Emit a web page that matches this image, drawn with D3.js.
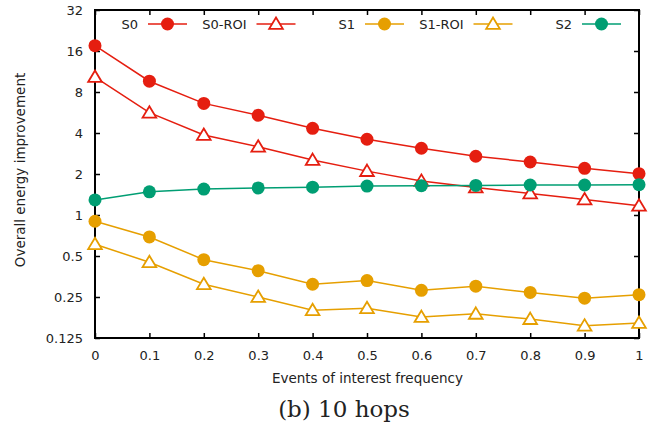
<!DOCTYPE html>
<html><head><meta charset="utf-8">
<script src="https://cdn.jsdelivr.net/npm/d3@7"></script>
<style>body{margin:0;background:#fff}svg{display:block}</style>
</head><body>
<script>
const xValues = [0,0.1,0.2,0.3,0.4,0.5,0.6,0.7,0.8,0.9,1];
const s0    = [17.5,9.6,6.6,5.4,4.33,3.6,3.09,2.70,2.45,2.20,2.01];
const s0roi = [10.3,5.64,3.87,3.17,2.53,2.10,1.78,1.59,1.44,1.30,1.17];
const s1    = [0.90,0.69,0.47,0.39,0.31,0.33,0.28,0.30,0.27,0.245,0.26];
const s1roi = [0.61,0.45,0.31,0.25,0.20,0.207,0.178,0.188,0.172,0.154,0.161];
const s2    = [1.29,1.48,1.55,1.58,1.60,1.63,1.64,1.65,1.66,1.66,1.67];
const yTicks = [0.125,0.25,0.5,1,2,4,8,16,32];
const yTickLabels = ["0.125","0.25","0.5","1","2","4","8","16","32"];
const xTickLabels = ["0","0.1","0.2","0.3","0.4","0.5","0.6","0.7","0.8","0.9","1"];
const seriesNames = ["S0","S0-ROI","S1","S1-ROI","S2"];

const W=652,H=430;
const L=95,R=639,T=10,B=338;
const svg=d3.select("body").append("svg").attr("width",W).attr("height",H);
const x=d3.scaleLinear().domain([0,1]).range([L,R]);
const y=d3.scaleLog().base(2).domain([0.125,32]).range([B,T]);

const red="#e51e10",orange="#e69f00",green="#009e73";
const series=[
 {name:seriesNames[0],vals:s0,color:red,marker:"circle"},
 {name:seriesNames[1],vals:s0roi,color:red,marker:"tri"},
 {name:seriesNames[2],vals:s1,color:orange,marker:"circle"},
 {name:seriesNames[3],vals:s1roi,color:orange,marker:"tri"},
 {name:seriesNames[4],vals:s2,color:green,marker:"circle"}
];
const font="'DejaVu Sans', sans-serif";

// axes with inward ticks
const tl=5;
const gxB=svg.append("g").attr("transform",`translate(0,${B})`)
  .call(d3.axisBottom(x).tickValues(xValues).tickFormat((d,i)=>xTickLabels[i]).tickSizeInner(-tl).tickSizeOuter(0).tickPadding(13));
const gxT=svg.append("g").attr("transform",`translate(0,${T})`)
  .call(d3.axisTop(x).tickValues(xValues).tickFormat("").tickSizeInner(-tl).tickSizeOuter(0));
const gyL=svg.append("g").attr("transform",`translate(${L},0)`)
  .call(d3.axisLeft(y).tickValues(yTicks).tickFormat((d,i)=>yTickLabels[i]).tickSizeInner(-tl).tickSizeOuter(0).tickPadding(12));
const gyR=svg.append("g").attr("transform",`translate(${R},0)`)
  .call(d3.axisRight(y).tickValues(yTicks).tickFormat("").tickSizeInner(-tl).tickSizeOuter(0));
[gxB,gxT,gyL,gyR].forEach(g=>{
  g.select(".domain").remove();
  g.selectAll(".tick line").attr("stroke","#000").attr("stroke-width",1.5);
  g.selectAll(".tick text").attr("font-family",font).attr("font-size",13).attr("fill","#222");
});
svg.append("rect").attr("x",L).attr("y",T).attr("width",R-L).attr("height",B-T)
  .attr("fill","none").attr("stroke","#000").attr("stroke-width",2);

const line=d3.line().x((d,i)=>x(xValues[i])).y(d=>y(d));
const triPath=(cx,cy)=>{const s=6.5;return `M${cx},${cy-s}L${cx+s*1.05},${cy+s*0.75}L${cx-s*1.05},${cy+s*0.75}Z`;};

function drawMarker(g,m,cx,cy,color){
  if(m==="circle") g.append("circle").attr("cx",cx).attr("cy",cy).attr("r",6.5).attr("fill",color);
  else g.append("path").attr("d",triPath(cx,cy)).attr("fill","#fff").attr("stroke",color).attr("stroke-width",1.8);
}
series.forEach(s=>{
  svg.append("path").datum(s.vals).attr("d",line).attr("fill","none").attr("stroke",s.color).attr("stroke-width",1.5);
  const g=svg.append("g");
  s.vals.forEach((v,i)=>drawMarker(g,s.marker,x(xValues[i]),y(v),s.color));
});

// legend
const legY=24;
series.forEach((s,i)=>{
  const tx=138+i*108.5;
  svg.append("text").attr("x",tx).attr("y",legY).attr("dy","0.35em").attr("text-anchor","end")
    .attr("font-family",font).attr("font-size",13).attr("fill","#222").text(s.name);
  svg.append("line").attr("x1",tx+10).attr("x2",tx+49).attr("y1",legY).attr("y2",legY)
    .attr("stroke",s.color).attr("stroke-width",1.5);
  const g=svg.append("g");
  drawMarker(g,s.marker,tx+29.5,legY,s.color);
});

svg.append("text").attr("x",(L+R)/2+0.5).attr("y",383).attr("text-anchor","middle")
  .attr("font-family",font).attr("font-size",13.5).attr("fill","#222").text("Events of interest frequency");
svg.append("text").attr("transform",`translate(25,${(T+B)/2-4}) rotate(-90)`).attr("text-anchor","middle")
  .attr("font-family",font).attr("font-size",13.5).attr("fill","#222").text("Overall energy improvement");
svg.append("text").attr("x",344).attr("y",417).attr("text-anchor","middle")
  .attr("font-family","'DejaVu Serif', serif").attr("font-size",23).attr("fill","#222").text("(b) 10 hops");
</script>
</body></html>
